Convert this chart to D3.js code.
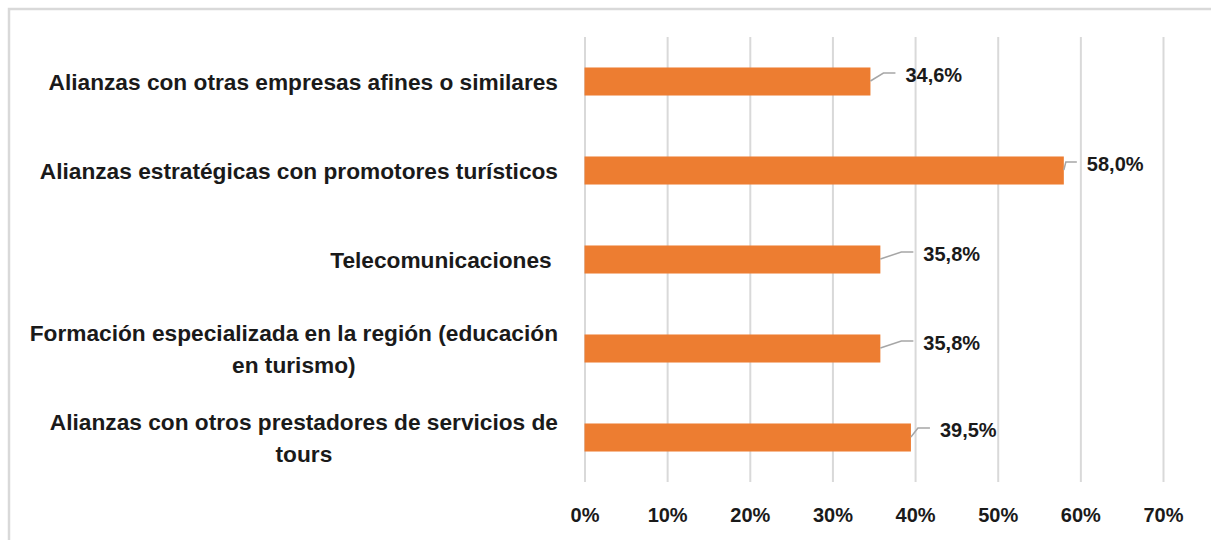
<!DOCTYPE html>
<html>
<head>
<meta charset="utf-8">
<script src="https://cdn.jsdelivr.net/npm/d3@7"></script>
<style>
  html, body { margin: 0; padding: 0; background: #ffffff; }
  svg { display: block; }
  text { font-family: "Liberation Sans", Arial, sans-serif; font-weight: bold; fill: #1a1a1a; }
</style>
</head>
<body>
<svg id="chart" width="1211" height="540"></svg>
<script>
// ---- data ----
const categories = [
  "Alianzas con otras empresas afines o similares",
  "Alianzas estratégicas con promotores turísticos",
  "Telecomunicaciones ",
  "Formación especializada en la región (educación\nen turismo)",
  "Alianzas con otros prestadores de servicios de\ntours"
];
const values = [34.6, 58.0, 35.8, 35.8, 39.5];
const valueLabels = ["34,6%", "58,0%", "35,8%", "35,8%", "39,5%"];
const tickValues = [0, 10, 20, 30, 40, 50, 60, 70];
const tickLabels = ["0%", "10%", "20%", "30%", "40%", "50%", "60%", "70%"];

// ---- layout (data label leader offsets, relative to bar end / bar centre) ----
const labelDx = [35, 23, 43, 43, 29];
const labelDy = [-8.5, -8.5, -7.5, -7.5, -9.5];

const W = 1211, H = 540;
const plot = { left: 584.5, right: 1163, top: 37, bottom: 482 };

const svg = d3.select("#chart");

// chart area border (top & left visible)
svg.append("rect")
  .attr("x", 9).attr("y", 9)
  .attr("width", W + 20).attr("height", H + 20)
  .attr("fill", "none")
  .attr("stroke", "#d9d9d9")
  .attr("stroke-width", 2.5);

const x = d3.scaleLinear().domain([0, 70]).range([plot.left, plot.right]);
const y = d3.scaleBand().domain(categories)
  .range([plot.top, plot.bottom])
  .paddingInner(0.685).paddingOuter(0.3425);

// x axis with gridlines
const xAxis = d3.axisBottom(x)
  .tickValues(tickValues)
  .tickFormat((d, i) => tickLabels[i])
  .tickSize(-(plot.bottom - plot.top))
  .tickPadding(25.8);

const gx = svg.append("g")
  .attr("transform", `translate(0,${plot.bottom})`)
  .call(xAxis);
gx.select(".domain").remove();
gx.selectAll(".tick line").attr("stroke", "#d9d9d9").attr("stroke-width", 2);
gx.selectAll(".tick text")
  .attr("font-size", 20)
  .attr("fill", "#1a1a1a")
  .style("font-family", '"Liberation Sans", Arial, sans-serif')
  .style("font-weight", "bold");

// bars
svg.append("g").selectAll("rect")
  .data(values)
  .join("rect")
  .attr("x", x(0))
  .attr("y", (d, i) => y(categories[i]))
  .attr("width", d => x(d) - x(0))
  .attr("height", y.bandwidth())
  .attr("fill", "#ed7d31");

// category labels (right-aligned block, lines centred within block)
const rightEdge = 558;
const lineH = 31.5;
const catG = svg.append("g");
categories.forEach((c, i) => {
  const lines = c.split("\n");
  const cy = y(c) + y.bandwidth() / 2;
  const t = catG.append("text")
    .attr("font-size", 22.7)
    .style("white-space", "pre");
  const spans = lines.map((ln, k) => t.append("tspan").text(ln));
  const widths = spans.map(s => s.node().getComputedTextLength());
  const blockW = d3.max(widths);
  const n = lines.length;
  const firstBase = cy + 8.5 - (n - 1) * lineH / 2;
  if (n === 1) {
    t.attr("text-anchor", "end").attr("x", rightEdge).attr("y", firstBase);
    spans[0].attr("x", rightEdge);
  } else {
    const cx = rightEdge - blockW / 2;
    t.attr("text-anchor", "middle");
    spans.forEach((s, k) => s.attr("x", cx).attr("y", firstBase + k * lineH));
  }
});

// data labels with leader lines
const lblG = svg.append("g");
values.forEach((v, i) => {
  const ex = x(v);
  const cy = y(categories[i]) + y.bandwidth() / 2;
  const lx = ex + labelDx[i];
  const ly = cy + labelDy[i];
  const pts = [[ex, cy - 0.5], [Math.max(ex + 2, lx - 22), ly], [lx - 10, ly]];
  lblG.append("path")
    .attr("d", d3.line()(pts))
    .attr("fill", "none")
    .attr("stroke", "#a6a6a6")
    .attr("stroke-width", 1.5);
  lblG.append("text")
    .attr("x", lx)
    .attr("y", ly + 9)
    .attr("font-size", 20)
    .text(valueLabels[i]);
});
</script>
</body>
</html>
